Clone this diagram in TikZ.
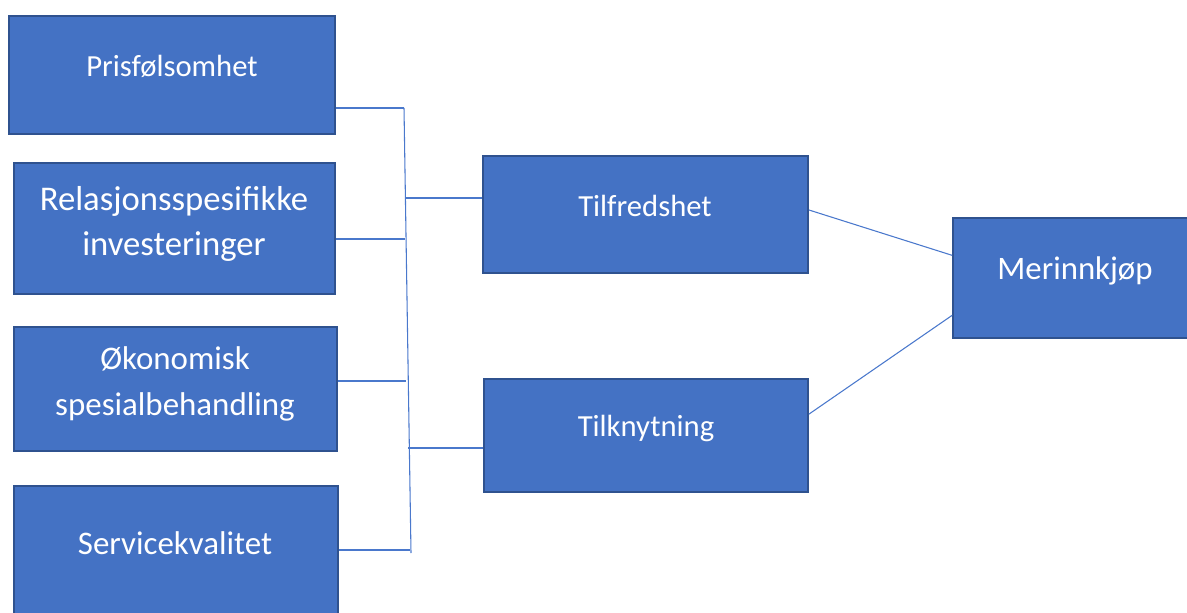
\documentclass[tikz,border=0pt]{standalone}
\usepackage{fontspec}
\setmainfont{Carlito}
\usetikzlibrary{fit}
\definecolor{boxblue}{HTML}{4472C4}
\definecolor{boxedge}{HTML}{2F528F}
\definecolor{linkblue}{HTML}{4A78CC}
\begin{document}
\begin{tikzpicture}[x=0.75pt,y=-0.75pt,
  box/.style={draw=boxedge, fill=boxblue, line width=1.3pt, rectangle, inner sep=0pt},
  lbl/.style={text=white, align=center, inner sep=0pt},
  link/.style={draw=linkblue, line width=0.8pt}]
\useasboundingbox (0,0) rectangle (1187,613);
\clip (0,0) rectangle (1187,613);
% boxes
\node[box, fit={(9,16) (335,134)}] (b1) {};
\node[box, fit={(14,163) (335,294)}] (b2) {};
\node[box, fit={(14,327) (337,451)}] (b3) {};
\node[box, fit={(14,486) (338,630)}] (b4) {};
\node[box, fit={(483,156) (808,273)}] (t1) {};
\node[box, fit={(484,379) (808,492)}] (t2) {};
\node[box, fit={(953,218) (1205,338)}] (m) {};
% labels
\node[lbl, font=\fontsize{23}{30}\selectfont] (l1) at (172,66) {Prisfølsomhet};
\node[lbl, font=\fontsize{26}{33.75}\selectfont] (l2) at (174,224) {Relasjonsspesifikke\\investeringer};
\node[lbl, font=\fontsize{24.7}{34.5}\selectfont] (l3) at (175,384) {Økonomisk\\spesialbehandling};
\node[lbl, font=\fontsize{24.7}{30}\selectfont] (l4) at (175,543) {Servicekvalitet};
\node[lbl, font=\fontsize{23}{30}\selectfont] (l5) at (645,206) {Tilfredshet};
\node[lbl, font=\fontsize{23}{30}\selectfont] (l6) at (646,428) {Tilknytning};
\node[lbl, font=\fontsize{24.6}{30}\selectfont] (l7) at (1075,271) {Merinnkjøp};
% bus
\coordinate (top) at (404,108);
\coordinate (bot) at (411,553);
\coordinate (j2) at (405,198);
\coordinate (j3) at (405,239);
\coordinate (j4) at (406,381);
\coordinate (j5) at (408,448);
\coordinate (j6) at (410,550);
\draw[link] (top) -- (bot);
\draw[link] (b1.east |- top) -- (top);
\draw[link] (b2.east |- j3) -- (j3);
\draw[link] (b3.east |- j4) -- (j4);
\draw[link] (b4.east |- j6) -- (j6);
\draw[link] (j2) -- (t1.west |- j2);
\draw[link] (j5) -- (t2.west |- j5);
\draw[link] ([yshift=3.4pt]t1.east) -- ([yshift=17pt]m.west);
\draw[link] ([yshift=16pt]t2.east) -- ([yshift=-28pt]m.west);
\end{tikzpicture}
\end{document}
